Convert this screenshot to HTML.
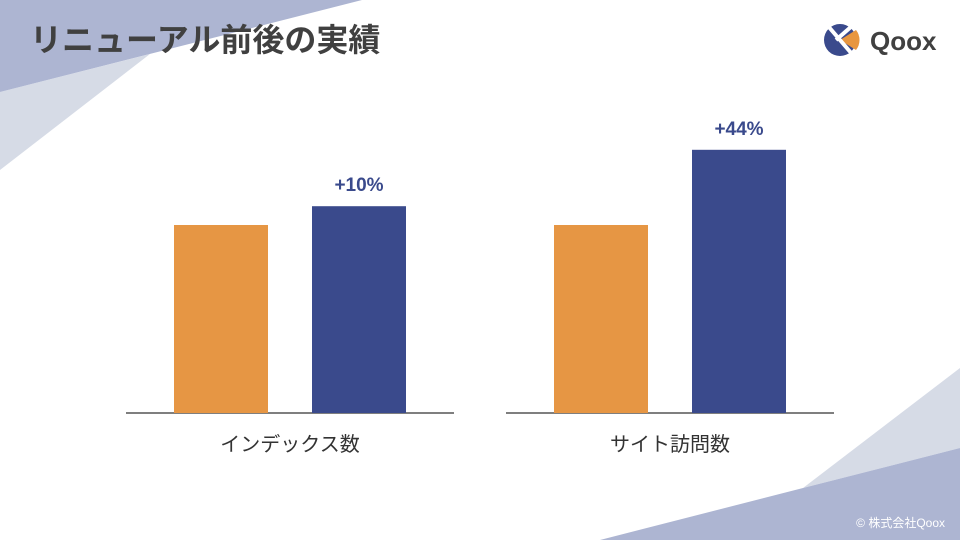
<!DOCTYPE html>
<html><head><meta charset="utf-8"><style>
body{margin:0;width:960px;height:540px;overflow:hidden;background:#fff;font-family:"Liberation Sans","Noto Sans CJK JP",sans-serif}
svg{display:block}
</style></head><body>
<svg width="960" height="540" viewBox="0 0 960 540">
<polygon points="0,92 150,54 0,170" fill="#d6dbe6"/>
<polygon points="0,0 362,0 0,92" fill="#adb5d2"/>
<polygon points="803,488 960,368 960,448" fill="#d6dbe6"/>
<polygon points="600,540 803,488 960,448 960,540" fill="#adb5d2"/>
<text x="30" y="51" font-size="32" font-weight="bold" fill="#404040" font-family="Liberation Sans, Noto Sans CJK JP, sans-serif">リニューアル前後の実績</text>
<g>
<circle cx="840" cy="40" r="16" fill="#3a4a8c"/>
<path d="M840,40 L856,30 A16,16 0 0 1 856,50 Z" fill="#e8963f"/>
<path d="M828,26 L852,54 M852,26 L836,40" stroke="#fff" stroke-width="4" fill="none"/>
<text x="870" y="50" font-size="26" font-weight="bold" fill="#404040">Qoox</text>
</g>
<g id="chart"></g>
<text x="945" y="527" font-size="12" fill="#fff" text-anchor="end" font-family="Liberation Sans, Noto Sans CJK JP, sans-serif">© 株式会社Qoox</text>
</svg>
<script>
const categories=["インデックス数","サイト訪問数"];
const beforeValues=[100,100];
const afterValues=[110,140];
const changeLabels=["+10%","+44%"];
const NS="http://www.w3.org/2000/svg";
const g=document.getElementById("chart");
const baseY=413, pxPerUnit=1.88;
function y(v){return baseY-v*pxPerUnit;}
function mk(tag,attrs){const e=document.createElementNS(NS,tag);for(const k in attrs)e.setAttribute(k,attrs[k]);g.appendChild(e);return e;}
categories.forEach((c,i)=>{
  const x0=126+i*380;
  const ax=mk("line",{x1:x0,x2:x0+328,y1:baseY,y2:baseY,stroke:"#333","stroke-width":1.2});
  
  
  const b1=mk("rect",{x:x0+48,y:y(beforeValues[i]),width:94,height:baseY-y(beforeValues[i]),fill:"#e69644"});
  
  
  const b2=mk("rect",{x:x0+186,y:y(afterValues[i]),width:94,height:baseY-y(afterValues[i]),fill:"#3a4a8c"});
  
  
  const t=mk("text",{x:x0+233,y:y(afterValues[i])-15,"font-size":19,"font-weight":"bold",fill:"#3a4a8c","text-anchor":"middle"});
  t.textContent=changeLabels[i];
  
  
  const l=mk("text",{x:x0+164,y:451,"font-size":20,fill:"#333","text-anchor":"middle","font-family":"Liberation Sans, Noto Sans CJK JP, sans-serif"});
  l.textContent=c;
  
  
});
</script>
</body></html>
